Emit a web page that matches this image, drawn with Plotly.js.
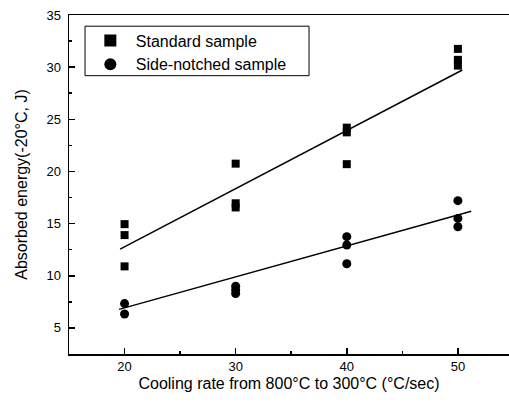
<!DOCTYPE html>
<html>
<head>
<meta charset="utf-8">
<script src="https://cdn.plot.ly/plotly-3.0.1.min.js"></script>
<style>html,body{margin:0;padding:0;background:#fff;}#chart{width:509px;height:411px;}</style>
</head>
<body>
<div id="chart"></div>
<script>
// Data
const standardX = [20, 20, 20, 30, 30, 30, 40, 40, 40, 50, 50, 50];
const standardY = [14.95, 13.9, 10.9, 20.75, 16.95, 16.55, 24.2, 23.75, 20.7, 31.75, 30.7, 30.15];
const sideX = [20, 20, 30, 30, 30, 40, 40, 40, 50, 50, 50];
const sideY = [7.33, 6.33, 9.0, 8.65, 8.3, 13.75, 12.95, 11.15, 17.2, 15.5, 14.7];
// Fitted lines as drawn in the reference (end values)
const standardFitX = [19.6, 50.4];
const standardFitY = [12.55, 29.73];
const sideFitX = [19.5, 51.2];
const sideFitY = [6.78, 16.18];
const xTicks = [20, 30, 40, 50];
const yTicks = [5, 10, 15, 20, 25, 30, 35];

const font = 'Arial, "Liberation Sans", sans-serif';

const traces = [
  {x: standardX, y: standardY, mode: 'markers', type: 'scatter', name: 'Standard sample',
   marker: {symbol: 'square', size: 8, color: '#000'}},
  {x: sideX, y: sideY, mode: 'markers', type: 'scatter', name: 'Side-notched sample',
   marker: {symbol: 'circle', size: 9, color: '#000'}},
  {x: standardFitX, y: standardFitY, mode: 'lines', type: 'scatter', showlegend: false,
   line: {color: '#000', width: 1.5}},
  {x: sideFitX, y: sideFitY, mode: 'lines', type: 'scatter', showlegend: false,
   line: {color: '#000', width: 1.5}}
];

const layout = {
  width: 509, height: 411,
  margin: {l: 69, r: 0, t: 15, b: 57},
  paper_bgcolor: '#fff', plot_bgcolor: '#fff',
  font: {family: font, color: '#000', size: 13},
  showlegend: true,
  legend: {x: 0.036, y: 0.975, xanchor: 'left', yanchor: 'top',
           borderwidth: 0, bgcolor: 'rgba(0,0,0,0)', itemwidth: 41,
           font: {family: font, size: 16, color: '#000'},
           tracegroupgap: 0, itemsizing: 'constant'},
  shapes: [{type: 'rect', xref: 'paper', yref: 'paper',
            x0: 0.0364, x1: 0.5455, y0: 0.821, y1: 0.967,
            line: {color: '#000', width: 1}, fillcolor: 'rgba(0,0,0,0)', layer: 'above'}],
  xaxis: {
    range: [15, 54.6], tickvals: xTicks, ticktext: xTicks.map(String),
    ticks: 'inside', ticklen: 6, tickwidth: 1.5, tickcolor: '#000',
    showline: true, linecolor: '#000', linewidth: 1.5, mirror: true,
    showgrid: false, zeroline: false,
    tickfont: {family: font, size: 13, color: '#000'},
    minor: {dtick: 5, tick0: 0, ticks: 'inside', ticklen: 3, tickcolor: '#000', showgrid: false},
    title: {text: 'Cooling rate from 800°C to 300°C (°C/sec)', font: {family: font, size: 16, color: '#000'}, standoff: 4}
  },
  yaxis: {
    range: [2.5, 35], tickvals: yTicks, ticktext: yTicks.map(String),
    ticks: 'inside', ticklen: 6, tickwidth: 1.5, tickcolor: '#000',
    showline: true, linecolor: '#000', linewidth: 1.5,
    showgrid: false, zeroline: false, ticklabelstandoff: 4,
    tickfont: {family: font, size: 13, color: '#000'},
    minor: {dtick: 2.5, tick0: 0, ticks: 'inside', ticklen: 3, tickcolor: '#000', showgrid: false},
    title: {text: 'Absorbed energy(-20°C, J)', font: {family: font, size: 16, color: '#000'}, standoff: 15}
  }
};

Plotly.newPlot('chart', traces, layout, {displayModeBar: false, staticPlot: true});
</script>
</body>
</html>
